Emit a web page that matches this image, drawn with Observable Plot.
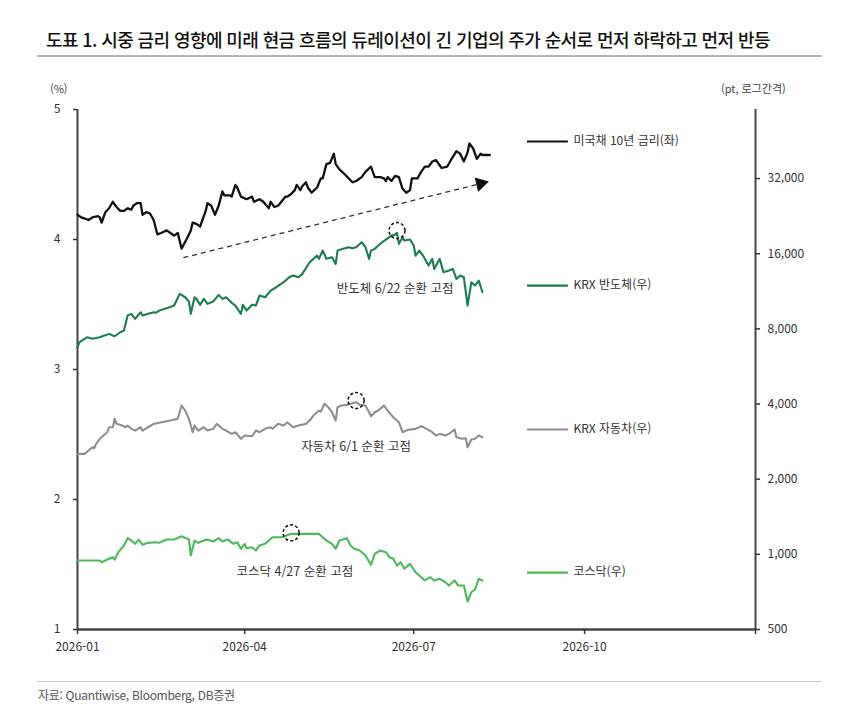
<!DOCTYPE html>
<html lang="ko">
<head>
<meta charset="utf-8">
<script src="https://cdn.jsdelivr.net/npm/d3@7"></script>
<script src="https://cdn.jsdelivr.net/npm/@observablehq/plot@0.6"></script>
<style>
  html, body { margin:0; padding:0; background:#fff; }
  body { width:860px; height:713px; position:relative; overflow:hidden;
         font-family:"Noto Sans CJK KR","Noto Sans",sans-serif; color:#222; }
  .abs { position:absolute; white-space:nowrap; }
  #title { left:46px; top:26px; font-size:18px; letter-spacing:-0.6px; font-weight:500; color:#111; }
  #rule1 { left:37px; top:55px; width:785px; height:2px; background:#b5b5b5; }
  #lunit { left:50px; top:80px; font-size:11px; color:#444; }
  #runit { left:721px; top:80px; font-size:11px; color:#444; }
  #chart { left:0; top:62px; }
  #rule2 { left:37px; top:681px; width:785px; height:1px; background:#c8c8c8; }
  #source { left:38px; top:686px; font-size:12px; color:#555; letter-spacing:-0.3px; }
</style>
</head>
<body>
<div class="abs" id="title">도표 1. 시중 금리 영향에 미래 현금 흐름의 듀레이션이 긴 기업의 주가 순서로 먼저 하락하고 먼저 반등</div>
<div class="abs" id="rule1"></div>
<div class="abs" id="lunit">(%)</div>
<div class="abs" id="runit">(pt, 로그간격)</div>
<div class="abs" id="chart"></div>
<div class="abs" id="rule2"></div>
<div class="abs" id="source">자료: Quantiwise, Bloomberg, DB증권</div>
<script>
// ---------------- DATA ----------------
const xStartDate = "2026-01-01";
const xEndDate = "2027-01-01";
const xTickDates = ["2026-01-01","2026-04-01","2026-07-01","2026-10-01","2027-01-01"];
const leftTicks = [1, 2, 3, 4, 5];
const rightTicks = [500, 1000, 2000, 4000, 8000, 16000, 32000];
const rightDomain = [500, 60500];

// 미국채 10년 금리 (%), 좌축
const ust10y = [
["2026-01-01",4.19],["2026-01-03",4.17],["2026-01-05",4.16],["2026-01-07",4.15],["2026-01-09",4.17],
["2026-01-12",4.18],["2026-01-13",4.17],["2026-01-14",4.13],["2026-01-16",4.21],["2026-01-18",4.24],
["2026-01-20",4.29],["2026-01-22",4.25],["2026-01-24",4.22],["2026-01-26",4.22],["2026-01-28",4.24],
["2026-01-30",4.23],["2026-01-31",4.26],["2026-02-02",4.28],["2026-02-04",4.28],["2026-02-05",4.19],
["2026-02-07",4.21],["2026-02-09",4.20],["2026-02-11",4.15],["2026-02-13",4.04],["2026-02-15",4.05],
["2026-02-18",4.07],["2026-02-21",4.04],["2026-02-22",4.03],["2026-02-24",4.05],["2026-02-26",3.93],
["2026-03-01",4.01],["2026-03-03",4.07],["2026-03-04",4.13],["2026-03-06",4.12],["2026-03-08",4.10],
["2026-03-11",4.22],["2026-03-12",4.28],["2026-03-14",4.26],["2026-03-16",4.19],["2026-03-18",4.26],
["2026-03-20",4.37],["2026-03-21",4.34],["2026-03-24",4.34],["2026-03-25",4.33],["2026-03-27",4.42],
["2026-03-28",4.40],["2026-03-30",4.33],["2026-04-02",4.31],["2026-04-05",4.33],["2026-04-06",4.29],
["2026-04-09",4.31],["2026-04-11",4.29],["2026-04-14",4.24],["2026-04-15",4.29],["2026-04-17",4.25],
["2026-04-19",4.26],["2026-04-23",4.33],["2026-04-24",4.33],["2026-04-26",4.35],["2026-04-28",4.38],
["2026-04-29",4.42],["2026-05-01",4.38],["2026-05-02",4.41],["2026-05-04",4.44],["2026-05-05",4.40],
["2026-05-07",4.36],["2026-05-10",4.40],["2026-05-12",4.47],["2026-05-13",4.47],["2026-05-15",4.58],
["2026-05-17",4.59],["2026-05-19",4.66],["2026-05-20",4.58],["2026-05-22",4.54],["2026-05-25",4.50],
["2026-05-29",4.44],["2026-05-31",4.45],["2026-06-03",4.48],["2026-06-05",4.52],["2026-06-08",4.56],
["2026-06-09",4.52],["2026-06-10",4.48],["2026-06-13",4.48],["2026-06-15",4.47],["2026-06-16",4.45],
["2026-06-17",4.48],["2026-06-19",4.45],["2026-06-21",4.49],["2026-06-23",4.48],["2026-06-25",4.39],
["2026-06-27",4.36],["2026-06-29",4.38],["2026-06-30",4.47],["2026-07-03",4.47],["2026-07-05",4.52],
["2026-07-07",4.56],["2026-07-09",4.56],["2026-07-11",4.60],["2026-07-13",4.61],["2026-07-16",4.55],
["2026-07-19",4.56],["2026-07-21",4.61],["2026-07-24",4.68],["2026-07-26",4.66],["2026-07-28",4.60],
["2026-07-30",4.67],["2026-07-31",4.74],["2026-08-02",4.70],["2026-08-04",4.62],["2026-08-06",4.66],
["2026-08-07",4.65],["2026-08-11",4.65]
];

// KRX 반도체 (pt), 우축
const krxSemi = [
["2026-01-01",6750],["2026-01-02",7070],["2026-01-06",7400],["2026-01-09",7300],["2026-01-13",7400],
["2026-01-18",7640],["2026-01-21",7475],["2026-01-24",7755],["2026-01-26",7880],["2026-01-28",9045],
["2026-01-30",9190],["2026-02-01",8775],["2026-02-04",9325],["2026-02-05",9045],["2026-02-08",9190],
["2026-02-11",9325],["2026-02-12",9275],["2026-02-14",9475],["2026-02-18",9675],["2026-02-22",9920],
["2026-02-25",11050],["2026-02-28",10710],["2026-03-02",10290],["2026-03-03",9190],["2026-03-05",10710],
["2026-03-06",10550],["2026-03-08",9985],["2026-03-10",10550],["2026-03-12",10075],["2026-03-15",10290],
["2026-03-18",10950],["2026-03-20",10550],["2026-03-22",10710],["2026-03-25",10170],["2026-03-27",9920],
["2026-03-30",9190],["2026-03-31",9985],["2026-04-02",9475],["2026-04-05",9985],["2026-04-07",9920],
["2026-04-09",10875],["2026-04-12",10710],["2026-04-15",11390],["2026-04-18",11745],["2026-04-22",12300],
["2026-04-25",12875],["2026-04-27",13080],["2026-04-30",12875],["2026-05-02",13285],["2026-05-06",14785],
["2026-05-10",15725],["2026-05-11",15260],["2026-05-13",16470],["2026-05-15",15260],["2026-05-18",15485],
["2026-05-20",14570],["2026-05-21",16470],["2026-05-24",16735],["2026-05-27",16985],["2026-05-29",16830],
["2026-05-31",16985],["2026-06-03",17785],["2026-06-05",16985],["2026-06-07",15260],["2026-06-08",16470],
["2026-06-10",16735],["2026-06-12",17250],["2026-06-14",17785],["2026-06-16",18230],["2026-06-19",18910],
["2026-06-21",19050],["2026-06-22",19400],["2026-06-23",17520],["2026-06-25",18620],["2026-06-26",18060],
["2026-06-29",18230],["2026-07-01",17250],["2026-07-02",15725],["2026-07-04",16470],["2026-07-06",15725],
["2026-07-09",14345],["2026-07-11",15260],["2026-07-12",13910],["2026-07-15",15260],["2026-07-17",13485],
["2026-07-20",13700],["2026-07-22",13910],["2026-07-24",12685],["2026-07-26",13080],["2026-07-28",12875],
["2026-07-30",9920],["2026-08-01",12300],["2026-08-03",11930],["2026-08-05",12490],["2026-08-07",11215]
];

// KRX 자동차 (pt), 우축
const krxAuto = [
["2026-01-01",2527],["2026-01-05",2527],["2026-01-07",2605],["2026-01-09",2686],["2026-01-10",2661],
["2026-01-11",2770],["2026-01-13",2902],["2026-01-15",2992],["2026-01-17",3084],["2026-01-18",3229],
["2026-01-20",3229],["2026-01-21",3490],["2026-01-22",3332],["2026-01-25",3281],["2026-01-27",3229],
["2026-01-28",3281],["2026-01-30",3182],["2026-02-01",3132],["2026-02-04",3229],["2026-02-05",3132],
["2026-02-08",3229],["2026-02-11",3332],["2026-02-14",3363],["2026-02-20",3435],["2026-02-24",3490],
["2026-02-26",3945],["2026-02-28",3766],["2026-03-02",3490],["2026-03-04",3084],["2026-03-05",3281],
["2026-03-07",3132],["2026-03-10",3229],["2026-03-12",3132],["2026-03-15",3182],["2026-03-17",3332],
["2026-03-20",3182],["2026-03-22",3132],["2026-03-25",3038],["2026-03-27",3084],["2026-03-30",2902],
["2026-04-01",2992],["2026-04-05",2972],["2026-04-07",3132],["2026-04-09",3084],["2026-04-12",3182],
["2026-04-15",3229],["2026-04-16",3182],["2026-04-19",3332],["2026-04-22",3281],["2026-04-24",3383],
["2026-04-27",3229],["2026-04-30",3281],["2026-05-04",3332],["2026-05-06",3435],["2026-05-08",3598],
["2026-05-11",3766],["2026-05-12",3732],["2026-05-14",4008],["2026-05-16",3883],["2026-05-18",3709],
["2026-05-20",3435],["2026-05-21",3883],["2026-05-23",3945],["2026-05-26",3970],["2026-05-31",4067],
["2026-06-02",3970],["2026-06-05",3945],["2026-06-07",3709],["2026-06-08",3575],["2026-06-10",3709],
["2026-06-12",3766],["2026-06-15",3945],["2026-06-17",3766],["2026-06-20",3541],["2026-06-23",3383],
["2026-06-25",3084],["2026-06-27",3132],["2026-06-29",3162],["2026-07-02",3182],["2026-07-05",3259],
["2026-07-08",3182],["2026-07-11",3084],["2026-07-13",2992],["2026-07-15",3038],["2026-07-18",2992],
["2026-07-20",3038],["2026-07-23",3162],["2026-07-24",2945],["2026-07-27",2902],["2026-07-29",2918],
["2026-07-30",2686],["2026-08-01",2884],["2026-08-03",2902],["2026-08-05",2992],["2026-08-07",2945]
];

// 코스닥 (pt), 우축
const kosdaq = [
["2026-01-01",945],["2026-01-05",945],["2026-01-13",945],["2026-01-14",930],["2026-01-17",953],
["2026-01-20",974],["2026-01-21",953],["2026-01-23",1020],["2026-01-26",1085],["2026-01-28",1161],
["2026-01-30",1136],["2026-02-01",1102],["2026-02-03",1146],["2026-02-05",1092],["2026-02-08",1112],
["2026-02-12",1118],["2026-02-14",1112],["2026-02-18",1146],["2026-02-22",1146],["2026-02-26",1182],
["2026-03-02",1146],["2026-03-03",989],["2026-03-05",1136],["2026-03-07",1112],["2026-03-10",1136],
["2026-03-12",1146],["2026-03-15",1126],["2026-03-18",1161],["2026-03-20",1126],["2026-03-23",1146],
["2026-03-26",1102],["2026-03-28",1118],["2026-03-30",1053],["2026-04-01",1102],["2026-04-02",1058],
["2026-04-05",1068],["2026-04-07",1036],["2026-04-09",1085],["2026-04-12",1102],["2026-04-16",1171],
["2026-04-21",1171],["2026-04-26",1208],["2026-05-01",1208],["2026-05-06",1208],["2026-05-11",1208],
["2026-05-13",1171],["2026-05-15",1136],["2026-05-18",1102],["2026-05-20",1053],["2026-05-22",1136],
["2026-05-26",1161],["2026-05-28",1085],["2026-05-30",1053],["2026-06-02",1036],["2026-06-05",989],
["2026-06-08",908],["2026-06-10",1005],["2026-06-13",1036],["2026-06-16",1020],["2026-06-18",974],
["2026-06-20",960],["2026-06-22",902],["2026-06-24",930],["2026-06-26",875],["2026-06-29",916],
["2026-07-02",848],["2026-07-04",823],["2026-07-07",786],["2026-07-10",810],["2026-07-12",786],
["2026-07-15",798],["2026-07-18",773],["2026-07-20",750],["2026-07-23",786],["2026-07-25",750],
["2026-07-28",750],["2026-07-30",647],["2026-08-01",705],["2026-08-03",723],["2026-08-05",798],
["2026-08-07",786]
];

const seriesNames = ["미국채 10년 금리(좌)", "KRX 반도체(우)", "KRX 자동차(우)", "코스닥(우)"];
const seriesData = [ust10y, krxSemi, krxAuto, kosdaq];
const seriesAxis = ["left", "right", "right", "right"];

// 순환 고점 표시 (date, value on the series' own axis)
const peakLabels = ["반도체 6/22 순환 고점", "자동차 6/1 순환 고점", "코스닥 4/27 순환 고점"];
const peakDates = ["2026-06-22", "2026-05-31", "2026-04-26"];
const peakValues = [19800, 4130, 1219];

// 금리 상승 추세 화살표 (좌축 %)
const trendStart = ["2026-02-27", 3.86];
const trendEnd = ["2026-08-06", 4.43];

// ---------------- STYLE / LAYOUT ----------------
const seriesColors = ["#111111", "#1b7d4d", "#8e8e8e", "#4cb85c"];
const seriesWidths = [2.3, 2.1, 2.1, 2.1];
const legendLevel = [4.754, 11926, 3162, 845];       // legend row height on each series' axis
const legendLine = ["2026-08-31", "2026-09-22"];
const legendTextDate = "2026-09-25";
const peakTextValues = [11600, 2700, 846];
const peakTextDates = ["2026-06-21", "2026-05-31", "2026-04-28"];

const parse = d3.utcParse("%Y-%m-%d");
const K = (leftTicks[leftTicks.length - 1] - leftTicks[0]) / Math.log2(rightDomain[1] / rightDomain[0]);
const toPct = v => leftTicks[0] + Math.log2(v / rightDomain[0]) * K;
const fromPct = p => rightDomain[0] * Math.pow(2, (p - leftTicks[0]) / K);
const onAxis = (axis, v) => axis === "left" ? v : toPct(v);
const fmtComma = d3.format(",");
const font = '"Noto Sans CJK KR","Noto Sans",sans-serif';

const lineMarks = seriesData.map((data, i) =>
  Plot.line(data, {
    x: d => parse(d[0]),
    y: d => onAxis(seriesAxis[i], d[1]),
    stroke: seriesColors[i],
    strokeWidth: seriesWidths[i],
    strokeLinejoin: "round"
  })
);

const legendRows = seriesNames.map((name, i) => ({
  name, color: seriesColors[i], y: onAxis(seriesAxis[i], legendLevel[i])
}));

const peaks = peakLabels.map((label, i) => ({
  label,
  date: parse(peakDates[i]),
  y: toPct(peakValues[i]),
  tDate: parse(peakTextDates[i]),
  tY: toPct(peakTextValues[i])
}));

const plot = Plot.plot({
  width: 860,
  height: 603,
  marginTop: 47,
  marginBottom: 36,
  marginLeft: 77,
  marginRight: 105,
  style: { fontFamily: font, fontSize: "12px", background: "transparent", color: "#333" },
  x: { type: "utc", domain: [parse(xStartDate), parse(xEndDate)] },
  y: { domain: [leftTicks[0], leftTicks[leftTicks.length - 1]] },
  marks: [
    // frame rules (axis lines)
    Plot.ruleX([parse(xStartDate), parse(xEndDate)], { stroke: "#444", strokeWidth: 2 }),
    Plot.ruleY([leftTicks[0]], { stroke: "#444", strokeWidth: 2.5 }),
    Plot.axisY(leftTicks, {
      anchor: "left", tickSize: 4, tickPadding: 13, label: null,
      tickFormat: d => String(d), color: "#333", fontSize: 12, strokeWidth: 1.5
    }),
    Plot.axisY(rightTicks.map(toPct), {
      anchor: "right", tickSize: 4, tickPadding: 8, label: null,
      tickFormat: d => fmtComma(Math.round(fromPct(d))), color: "#333", fontSize: 12, strokeWidth: 1.5
    }),
    Plot.axisX(xTickDates.map(parse), {
      anchor: "bottom", tickSize: 5, tickPadding: 8, label: null,
      tickFormat: d => d.getUTCFullYear() > 2026 ? "" : d3.utcFormat("%Y-%m")(d),
      color: "#333", fontSize: 12, strokeWidth: 1.5
    }),
    // trend arrow
    Plot.link([0], {
      x1: () => parse(trendStart[0]), y1: () => trendStart[1],
      x2: () => parse(trendEnd[0]), y2: () => trendEnd[1],
      stroke: "#333", strokeWidth: 1.3, strokeDasharray: "5,4"
    }),
    Plot.dot([0], {
      x: () => parse(trendEnd[0]), y: () => trendEnd[1],
      symbol: "triangle", r: 5.5, fill: "#111", stroke: "none", rotate: 76
    }),
    ...lineMarks,
    // peak circles
    Plot.dot(peaks, {
      x: "date", y: "y", r: 8, stroke: "#111", strokeWidth: 1.5,
      strokeDasharray: "3,2.2", fill: "none"
    }),
    Plot.text(peaks, {
      x: "tDate", y: "tY", text: "label", fill: "#333", fontSize: 12.5, textAnchor: "middle"
    }),
    // legend
    Plot.link(legendRows, {
      x1: () => parse(legendLine[0]), x2: () => parse(legendLine[1]),
      y1: "y", y2: "y", stroke: "color", strokeWidth: 2.2
    }),
    Plot.text(legendRows, {
      x: () => parse(legendTextDate), y: "y", text: "name",
      textAnchor: "start", fill: "#333", fontSize: 12
    })
  ]
});

document.getElementById("chart").appendChild(plot);
</script>
</body>
</html>
